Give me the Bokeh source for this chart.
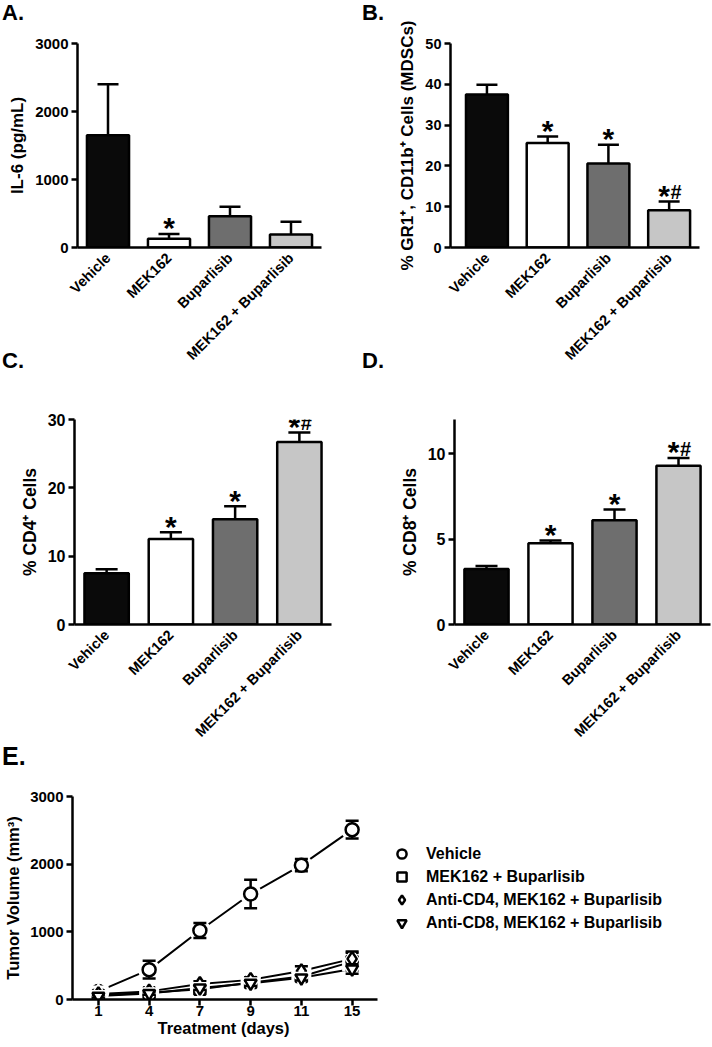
import math
from bokeh.plotting import figure
from bokeh.models import (Range1d, FixedTicker, ColumnDataSource, Whisker, TeeHead,
                          Legend, LegendItem, Div, Title)
from bokeh.layouts import row, column
from bokeh.embed import file_html
from bokeh.resources import INLINE
from bokeh.core.properties import value

FONT = "Liberation Sans"

# ---------------- data ----------------
groups = ["Vehicle", "MEK162", "Buparlisib", "MEK162 + Buparlisib"]
bar_colors = ["#0a0a0a", "#ffffff", "#6e6e6e", "#c6c6c6"]

il6_mean = [1650, 130, 460, 190]
il6_err = [750, 70, 140, 190]
il6_star = ["", "*", "", ""]
il6_hash = ["", "", "", ""]

mdsc_mean = [37.5, 25.6, 20.6, 9.1]
mdsc_err = [2.4, 1.6, 4.6, 2.2]
mdsc_star = ["", "*", "*", "*"]
mdsc_hash = ["", "", "", "#"]

cd4_mean = [7.5, 12.5, 15.4, 26.7]
cd4_err = [0.6, 1.0, 1.9, 1.4]
cd4_star = ["", "*", "*", "*"]
cd4_hash = ["", "", "", "#"]

cd8_mean = [3.25, 4.75, 6.1, 9.3]
cd8_err = [0.17, 0.17, 0.63, 0.45]
cd8_star = ["", "*", "*", "*"]
cd8_hash = ["", "", "", "#"]

days = ["1", "4", "7", "9", "11", "15"]
vehicle_vol = [120, 441, 1020, 1560, 1985, 2510]
vehicle_err = [40, 130, 110, 210, 90, 130]
combo_vol = [60, 100, 150, 250, 340, 560]
combo_err = [20, 20, 30, 40, 50, 130]
cd4_vol = [80, 120, 230, 290, 420, 600]
cd4_err_vol = [20, 25, 40, 40, 70, 110]
cd8_vol = [50, 90, 170, 240, 320, 450]
cd8_err_vol = [20, 20, 30, 40, 40, 70]

series_names = ["Vehicle", "MEK162 + Buparlisib",
                "Anti-CD4, MEK162 + Buparlisib", "Anti-CD8, MEK162 + Buparlisib"]
series_markers = ["circle", "square", "diamond", "inverted_triangle"]


def style_axes(p, tick_fs, label_fs):
    for ax in p.axis:
        ax.axis_line_width = 2.5
        ax.axis_line_color = "black"
        ax.major_tick_line_width = 2.5
        ax.major_tick_line_color = "black"
        ax.major_tick_in = 0
        ax.major_tick_out = 6
        ax.minor_tick_line_color = None
        ax.major_label_text_font = FONT
        ax.major_label_text_font_style = "bold"
        ax.major_label_text_color = "black"
        ax.major_label_text_font_size = tick_fs
        ax.axis_label_text_font = FONT
        ax.axis_label_text_font_style = "bold"
        ax.axis_label_text_font_size = label_fs
        ax.axis_label_text_color = "black"
    p.xgrid.grid_line_color = None
    p.ygrid.grid_line_color = None
    p.outline_line_color = None
    p.background_fill_color = "white"
    p.border_fill_color = "white"


def bar_panel(means, errs, stars, hashes, ylabel, ymax, yticks, xpad, w, h, borders,
              tick_fs, label_fs, cap):
    bl, br, bt, bb = borders
    p = figure(width=w, height=h,
               x_range=Range1d(-xpad[0], len(groups) - 1 + xpad[1]),
               y_range=Range1d(0, ymax),
               output_backend="svg", toolbar_location=None,
               min_border_left=bl, min_border_right=br,
               min_border_top=bt, min_border_bottom=bb)
    xs = list(range(len(groups)))
    src = ColumnDataSource(dict(x=xs, top=means,
                                hi=[m + e for m, e in zip(means, errs)],
                                color=bar_colors, star=stars, hash=hashes,
                                star_dx=[-5 if hh else 0 for hh in hashes]))
    wh = Whisker(source=src, base="x", lower="top", upper="hi", dimension="height",
                 line_width=2.5, line_color="black",
                 upper_head=TeeHead(size=cap, line_width=2.5, line_color="black"),
                 lower_head=None)
    p.add_layout(wh)
    p.vbar(x="x", top="top", bottom=0, width=0.69, fill_color="color",
           line_color="black", line_width=2.5, source=src)
    p.text(x="x", y="hi", text="star", source=src, text_align="center",
           text_baseline="alphabetic", y_offset=-6, x_offset="star_dx",
           text_font=value(FONT), text_font_style="bold", text_font_size="30px",
           text_color="black")
    p.text(x="x", y="hi", text="hash", source=src, text_align="center",
           text_baseline="alphabetic", y_offset=-9, x_offset=7,
           text_font=value(FONT), text_font_style="bold", text_font_size="20px",
           text_color="black")
    style_axes(p, tick_fs, label_fs)
    p.xaxis.ticker = FixedTicker(ticks=xs)
    p.xaxis.major_label_overrides = {i: g for i, g in enumerate(groups)}
    p.xaxis.major_label_orientation = math.pi / 4
    p.xaxis.major_tick_out = 0
    p.xaxis.major_tick_line_color = None
    p.xaxis.major_label_standoff = 8
    p.xaxis.major_label_text_font_size = "14.5px"
    p.yaxis.ticker = FixedTicker(ticks=yticks)
    p.yaxis.major_label_standoff = 3
    p.yaxis.axis_label_standoff = 5
    p.yaxis.axis_label = ylabel
    return p


pa = bar_panel(il6_mean, il6_err, il6_star, il6_hash, "IL-6 (pg/mL)", 3000,
               [0, 1000, 2000, 3000], (0.5, 0.5), 356, 375, (77, 35, 43, 128),
               "15px", "17px", 21)
pb = bar_panel(mdsc_mean, mdsc_err, mdsc_star, mdsc_hash,
               "% GR1\u207a, CD11b\u207a Cells (MDSCs)", 50,
               [0, 10, 20, 30, 40, 50], (0.6, 0.5), 356, 375, (94, 13, 43, 128),
               "14.5px", "17px", 21)
pc = bar_panel(cd4_mean, cd4_err, cd4_star, cd4_hash, "% CD4\u207a Cells", 30,
               [0, 10, 20, 30], (0.5, 0.5), 356, 374, (74, 25, 44, 125),
               "16px", "17.5px", 22)
pd = bar_panel(cd8_mean, cd8_err, cd8_star, cd8_hash, "% CD8\u207a Cells", 12,
               [0, 5, 10], (0.5, 0.5), 356, 374, (98, 2, 43, 125),
               "16px", "17.5px", 22)

# ---------------- panel E ----------------
# frame spans to the right edge; the x axis itself is bounded to the day range
e_px_per_day = 305 / 6.01
pe = figure(width=712, height=296,
            x_range=Range1d(-0.51, -0.51 + 640 / e_px_per_day), y_range=Range1d(0, 3000),
            output_backend="svg", toolbar_location=None,
            min_border_left=72, min_border_right=0, min_border_top=47, min_border_bottom=46)
xi = list(range(len(days)))
vols = [vehicle_vol, combo_vol, cd4_vol, cd8_vol]
errs = [vehicle_err, combo_err, cd4_err_vol, cd8_err_vol]
sizes = [13, 11, 14, 12]

for v in vols:
    pe.line(xi, v, line_color="black", line_width=2)

marker_renderers = []
for v, e, mk, sz in zip(vols, errs, series_markers, sizes):
    lo = [a - b for a, b in zip(v, e)]
    hi = [a + b for a, b in zip(v, e)]
    pe.scatter(xi, v, marker=mk, size=sz + 9, fill_color="white", line_color=None)
    pe.segment(x0=xi, y0=lo, x1=xi, y1=hi, line_color="black", line_width=2.5)
    pe.scatter(xi, lo, marker="dash", size=13, line_color="black", line_width=2.5)
    pe.scatter(xi, hi, marker="dash", size=13, line_color="black", line_width=2.5)
    r = pe.scatter(xi, v, marker=mk, size=sz, fill_color="white",
                   line_color="black", line_width=2.5)
    marker_renderers.append(r)

style_axes(pe, "15px", "16.5px")
pe.xaxis.ticker = FixedTicker(ticks=xi)
pe.xaxis.bounds = (-0.51, 5.5)
pe.xaxis.major_label_overrides = {i: d for i, d in enumerate(days)}
pe.xaxis.major_label_standoff = 0
pe.yaxis.ticker = FixedTicker(ticks=[0, 1000, 2000, 3000])
pe.yaxis.major_label_standoff = 3
pe.yaxis.axis_label_standoff = 5
pe.yaxis.axis_label = "Tumor Volume (mm\u00b3)"

# x-axis title, placed under the (bounded) day axis
pe.add_layout(Title(text="Treatment (days)", align="left", offset=85,
                    vertical_align="top", standoff=0,
                    text_font=FONT, text_font_style="bold", text_font_size="16.5px",
                    text_color="black"), "below")

legend = Legend(items=[LegendItem(label=n, renderers=[r])
                       for n, r in zip(series_names, marker_renderers)],
                location=(318, 65), glyph_width=23, glyph_height=23, spacing=0,
                label_standoff=13, label_height=23,
                padding=10, margin=0,
                border_line_color=None, background_fill_alpha=0,
                label_text_font=FONT, label_text_font_style="bold",
                label_text_font_size="16px", label_text_color="black")
pe.add_layout(legend)


# ---------------- panel letters ----------------
def letter_div(text, left, top, size):
    return Div(text=text, styles={
        "position": "absolute", "left": f"{left}px", "top": f"{top}px",
        "font-family": FONT, "font-weight": "bold", "font-size": f"{size}px",
        "line-height": "1", "color": "black", "z-index": "10", "margin": "0",
    })


letters = [letter_div("A.", 2, 2, 22), letter_div("B.", 362, 2, 22),
           letter_div("C.", 2, 350, 22), letter_div("D.", 362, 350, 22),
           letter_div("E.", 2, 744, 25)]

layout = column(row(pa, pb), row(pc, pd), pe, *letters)

open("out.html", "w").write(file_html(layout, INLINE))
